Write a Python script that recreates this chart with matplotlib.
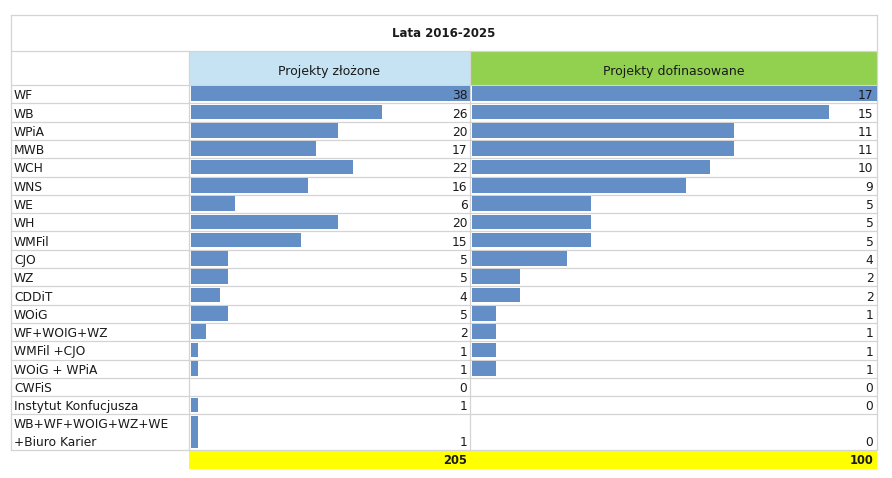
import matplotlib
matplotlib.use("Agg")
import matplotlib.pyplot as plt
import numpy as np

# data
labels = ["WF", "WB", "WPiA", "MWB", "WCH", "WNS", "WE", "WH", "WMFil", "CJO",
          "WZ", "CDDiT", "WOiG", "WF+WOIG+WZ", "WMFil +CJO", "WOiG + WPiA",
          "CWFiS", "Instytut Konfucjusza", "WB+WF+WOIG+WZ+WE\n+Biuro Karier"]
zlozone = [38, 26, 20, 17, 22, 16, 6, 20, 15, 5, 5, 4, 5, 2, 1, 1, 0, 1, 1]
dofinansowane = [17, 15, 11, 11, 10, 9, 5, 5, 5, 4, 2, 2, 1, 1, 1, 1, 0, 0, 0]
title = "Lata 2016-2025"
headers = ["Projekty złożone", "Projekty dofinasowane"]

# layout (pixels)
W, H = 892, 478
x_left, x_c1, x_c2, x_right = 11, 189, 470, 877
y_top, y_title, y_head = 15, 51, 85
unit = 18.3
row_h = np.array([1.0] * 18 + [1.94])
edges = np.concatenate([[0], np.cumsum(row_h)])
y_rows = y_head + edges * unit
y_end = y_rows[-1]
y_total = y_end + 19

grid = "#d4d4d4"
bar_col = "#638ec6"
txt = "#1a1a1a"

fig = plt.figure(figsize=(W / 100, H / 100), dpi=100)
bg = fig.add_axes([0, 0, 1, 1])
bg.set_xlim(0, W)
bg.set_ylim(H, 0)
bg.axis("off")

# cell fills
bg.fill_between([x_c1, x_c2], y_title, y_head, color="#c5e3f3", lw=0)
bg.fill_between([x_c2, x_right], y_title, y_head, color="#92d050", lw=0)
bg.fill_between([x_c1, x_right], y_end, y_total, color="#ffff00", lw=0)

# grid lines
lw = 0.9
for y in [y_top, y_title] + list(y_rows):
    bg.plot([x_left, x_right], [y, y], color=grid, lw=lw)
for x in [x_left, x_right]:
    bg.plot([x, x], [y_top, y_end], color=grid, lw=lw)
for x in [x_c1, x_c2]:
    bg.plot([x, x], [y_title, y_end], color=grid, lw=lw)

# bars
tops = edges[:-1]
bots = edges[1:]
centers = (tops + 0.08 + bots - 0.125) / 2
heights = row_h - 0.205
for vals, x0, x1 in [(zlozone, 191, x_c2), (dofinansowane, 472.3, x_right - 0.5)]:
    ax = fig.add_axes([x0 / W, 1 - y_end / H, (x1 - x0) / W, (y_end - y_head) / H])
    ax.barh(centers, vals, height=heights, color=bar_col, lw=0)
    ax.set_xlim(0, max(vals))
    ax.set_ylim(edges[-1], 0)
    ax.axis("off")

# text overlay on top of the bars
fg = fig.add_axes([0, 0, 1, 1])
fg.set_xlim(0, W)
fg.set_ylim(H, 0)
fg.patch.set_alpha(0)
fg.axis("off")

fg.text((x_left + x_right) / 2, 33, title, ha="center", va="center",
        fontsize=8.5, fontweight="bold", color=txt)
fg.text((x_c1 + x_c2) / 2, 71, headers[0], ha="center", va="center",
        fontsize=9, color=txt)
fg.text((x_c2 + x_right) / 2, 71, headers[1], ha="center", va="center",
        fontsize=9, color=txt)

fs = 8.8
for i, lab in enumerate(labels):
    base = y_rows[i + 1] - 4
    lines = lab.split("\n")
    for k, line in enumerate(lines):
        fg.text(14, base - (len(lines) - 1 - k) * unit, line, ha="left",
                va="baseline", fontsize=fs, color=txt)
    fg.text(x_c2 - 2.5, base, str(zlozone[i]), ha="right", va="baseline",
            fontsize=fs, color=txt)
    fg.text(x_right - 3.5, base, str(dofinansowane[i]), ha="right", va="baseline",
            fontsize=fs, color=txt)

# totals
ty = y_total - 4.5
fg.text(x_c2 - 2.5, ty, str(sum(zlozone)), ha="right", va="baseline",
        fontsize=8.3, fontweight="bold", color=txt)
fg.text(x_right - 3.5, ty, str(sum(dofinansowane)), ha="right", va="baseline",
        fontsize=8.3, fontweight="bold", color=txt)

fig.savefig("out.png", dpi=100)
